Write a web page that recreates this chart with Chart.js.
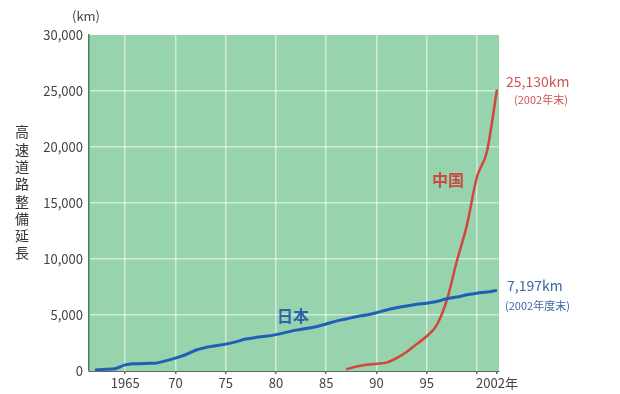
<!DOCTYPE html>
<html>
<head>
<meta charset="utf-8">
<script src="https://cdn.jsdelivr.net/npm/chart.js@4.4.1/dist/chart.umd.min.js"></script>
<style>
  html, body { margin: 0; padding: 0; background: #fff; }
  #wrap { position: relative; width: 620px; height: 394px; }
</style>
</head>
<body>
<div id="wrap"><canvas id="roadChart"></canvas></div>
<script>
// 日本の高速道路整備延長 (km)
const japanYears = [1962, 1963, 1964, 1965, 1966, 1967, 1968, 1969, 1970, 1971, 1972, 1973, 1974, 1975,
  1976, 1977, 1978, 1979, 1980, 1981, 1982, 1983, 1984, 1985, 1986, 1987, 1988, 1989, 1990,
  1991, 1992, 1993, 1994, 1995, 1996, 1997, 1998, 1999, 2000, 2001, 2002];
const japanKm = [100, 150, 200, 550, 650, 680, 700, 900, 1150, 1450, 1850, 2100, 2250, 2400,
  2600, 2850, 3000, 3100, 3250, 3450, 3650, 3800, 3950, 4200, 4450, 4650, 4850, 5000, 5200,
  5450, 5650, 5800, 5950, 6050, 6200, 6450, 6600, 6800, 6950, 7050, 7197];

// 中国の高速道路整備延長 (km)
const chinaYears = [1987, 1988, 1989, 1990, 1991, 1992, 1993, 1994, 1995, 1996, 1997, 1998, 1999, 2000, 2001, 2002];
const chinaKm = [150, 400, 550, 650, 750, 1150, 1700, 2400, 3100, 4100, 6300, 9800, 13000, 17300, 19600, 25130];

const xTicks = [1965, 1970, 1975, 1980, 1985, 1990, 1995, 2000, 2002];
const yTitle = '高速道路整備延長';

const FONT = '"Noto Sans CJK JP", "Noto Sans", sans-serif';

const bgPlugin = {
  id: 'plotBg',
  beforeDraw(chart) {
    const { ctx, chartArea: a } = chart;
    ctx.save();
    ctx.fillStyle = '#97d3ac';
    ctx.fillRect(a.left, a.top, a.right - a.left, a.bottom - a.top);
    ctx.restore();
  }
};

const textPlugin = {
  id: 'notes',
  afterDraw(chart) {
    const { ctx, scales } = chart;
    const x = scales.x, y = scales.y;
    ctx.save();
    ctx.textBaseline = 'middle';

    // unit
    ctx.fillStyle = '#444';
    ctx.font = '13px ' + FONT;
    ctx.textAlign = 'center';
    ctx.fillText('(km)', 86, 16);

    // vertical axis title, upright characters
    ctx.font = '14px ' + FONT;
    ctx.fillStyle = '#333';
    [...yTitle].forEach((ch, i) => ctx.fillText(ch, 22, 132 + i * 17.3));

    // series names
    ctx.font = 'bold 16px ' + FONT;
    ctx.textAlign = 'left';
    ctx.fillStyle = '#2f63a8';
    ctx.fillText('日本', 277, 316);
    ctx.fillStyle = '#cc4b45';
    ctx.fillText('中国', 432, 180);

    // end values
    const xEnd = x.getPixelForValue(2002);
    ctx.font = '14px ' + FONT;
    ctx.fillStyle = '#cc5555';
    ctx.fillText('25,130km', xEnd + 9, y.getPixelForValue(25130) - 8);
    ctx.font = '11px ' + FONT;
    ctx.fillText('(2002年末)', xEnd + 17, y.getPixelForValue(25130) + 10);

    ctx.font = '14px ' + FONT;
    ctx.fillStyle = '#3d67a8';
    ctx.fillText('7,197km', xEnd + 10, y.getPixelForValue(7197) - 5);
    ctx.font = '11px ' + FONT;
    ctx.fillText('(2002年度末)', xEnd + 8, y.getPixelForValue(7197) + 15);
    ctx.restore();
  }
};

const ctx = document.getElementById('roadChart').getContext('2d');
new Chart(ctx, {
  type: 'line',
  data: {
    datasets: [
      {
        label: '日本',
        data: japanYears.map((yr, i) => ({ x: yr, y: japanKm[i] })),
        borderColor: '#1f5fb8',
        borderWidth: 3,
        pointRadius: 0,
        cubicInterpolationMode: 'monotone'
      },
      {
        label: '中国',
        data: chinaYears.map((yr, i) => ({ x: yr, y: chinaKm[i] })),
        borderColor: '#d2473d',
        borderWidth: 2.5,
        pointRadius: 0,
        cubicInterpolationMode: 'monotone'
      }
    ]
  },
  options: {
    responsive: true,
    maintainAspectRatio: false,
    animation: false,
    layout: { padding: { top: 35, right: 121, bottom: 0, left: 0 } },
    plugins: {
      legend: { display: false },
      tooltip: { enabled: false }
    },
    scales: {
      x: {
        type: 'linear',
        min: 1961.4,
        max: 2002.2,
        afterBuildTicks: (scale) => { scale.ticks = xTicks.map(v => ({ value: v })); },
        afterFit: (scale) => { scale.height = 23; },
        grid: {
          color: (c) => (c.tick && c.tick.value === 2002) ? 'rgba(0,0,0,0)' : 'rgba(255,255,255,0.55)',
          lineWidth: 1.5,
          tickLength: 3,
          tickColor: '#666'
        },
        border: { display: true, color: '#666', width: 1 },
        ticks: {
          autoSkip: false,
          maxRotation: 0,
          padding: 1,
          color: '#444',
          font: { size: 13, family: FONT },
          callback: (v) => {
            if (v === 1965) return '1965';
            if (v === 2002) return '2002年';
            if (v === 2000) return '';
            return String(v).slice(2);
          }
        }
      },
      y: {
        min: 0,
        max: 30000,
        afterFit: (scale) => { scale.width = 89; },
        grid: {
          color: (c) => (c.tick && (c.tick.value === 0 || c.tick.value === 30000)) ? 'rgba(0,0,0,0)' : 'rgba(255,255,255,0.55)',
          lineWidth: 1.5,
          drawTicks: false
        },
        border: { display: true, color: '#4d7f5c', width: 1.5 },
        ticks: {
          stepSize: 5000,
          padding: 6,
          color: '#444',
          font: { size: 13, family: FONT },
          callback: (v) => v.toLocaleString('en-US')
        }
      }
    }
  },
  plugins: [bgPlugin, textPlugin]
});
</script>
</body>
</html>
